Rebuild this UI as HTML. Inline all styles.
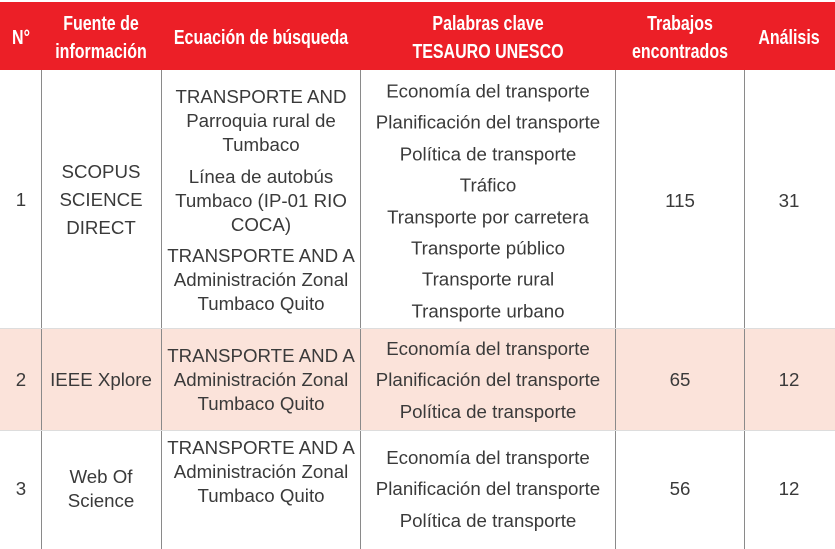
<!DOCTYPE html>
<html><head><meta charset="utf-8"><style>
body{margin:0;width:835px;height:549px;background:#fff;position:relative;overflow:hidden;font-family:"Liberation Sans",sans-serif;color:#3a3a3a}
.h{position:absolute;top:2px;height:68px;background:#ec1f27}
.ht{position:absolute;color:#fff;font-family:"Liberation Sans",sans-serif;font-weight:bold;font-size:20px;line-height:28px;text-align:center;white-space:nowrap;transform:translate(-50%,-50%) scaleX(0.8)}
.v{position:absolute;width:1px;background:#8a8a8a;top:70px;height:479px}
.t{position:absolute;text-align:center;font-size:18.7px;white-space:nowrap;transform:translate(-50%,-50%)}
</style></head><body>
<div class="h" style="left:0;width:835px"></div>
<div style="position:absolute;left:0;top:329px;width:835px;height:101px;background:#fbe3da"></div>
<div class="v" style="left:41px"></div>
<div class="v" style="left:161px"></div>
<div class="v" style="left:360px"></div>
<div class="v" style="left:615px"></div>
<div class="v" style="left:744px"></div>
<div style="position:absolute;left:0;top:328px;width:835px;height:1px;background:#ddd"></div>
<div style="position:absolute;left:0;top:430px;width:835px;height:1px;background:#ddd"></div>

<div class="ht" style="left:21px;top:38px">N°</div>
<div class="ht" style="left:101px;top:38px">Fuente de<br>información</div>
<div class="ht" style="left:261px;top:38px">Ecuación de búsqueda</div>
<div class="ht" style="left:488px;top:38px">Palabras clave<br>TESAURO UNESCO</div>
<div class="ht" style="left:680px;top:38px">Trabajos<br>encontrados</div>
<div class="ht" style="left:789px;top:38px">Análisis</div>

<!-- row 1 -->
<div class="t" style="left:21px;top:200px">1</div>
<div class="t" style="left:101px;top:200px;line-height:28px">SCOPUS<br>SCIENCE<br>DIRECT</div>
<div class="t" style="left:261px;top:121px;line-height:24px">TRANSPORTE AND<br>Parroquia rural de<br>Tumbaco</div>
<div class="t" style="left:261px;top:201px;line-height:24px">Línea de autobús<br>Tumbaco (IP-01 RIO<br>COCA)</div>
<div class="t" style="left:261px;top:280px;line-height:24px">TRANSPORTE AND A<br>Administración Zonal<br>Tumbaco Quito</div>
<div class="t" style="left:488px;top:201px;line-height:31.4px">Economía del transporte<br>Planificación del transporte<br>Política de transporte<br>Tráfico<br>Transporte por carretera<br>Transporte público<br>Transporte rural<br>Transporte urbano</div>
<div class="t" style="left:680px;top:201px">115</div>
<div class="t" style="left:789px;top:201px">31</div>

<!-- row 2 -->
<div class="t" style="left:21px;top:380px">2</div>
<div class="t" style="left:101px;top:380px">IEEE Xplore</div>
<div class="t" style="left:261px;top:380px;line-height:24px">TRANSPORTE AND A<br>Administración Zonal<br>Tumbaco Quito</div>
<div class="t" style="left:488px;top:380px;line-height:31.4px">Economía del transporte<br>Planificación del transporte<br>Política de transporte</div>
<div class="t" style="left:680px;top:380px">65</div>
<div class="t" style="left:789px;top:380px">12</div>

<!-- row 3 -->
<div class="t" style="left:21px;top:489px">3</div>
<div class="t" style="left:101px;top:489px;line-height:24px">Web Of<br>Science</div>
<div class="t" style="left:261px;top:472px;line-height:24px">TRANSPORTE AND A<br>Administración Zonal<br>Tumbaco Quito</div>
<div class="t" style="left:488px;top:489px;line-height:31.4px">Economía del transporte<br>Planificación del transporte<br>Política de transporte</div>
<div class="t" style="left:680px;top:489px">56</div>
<div class="t" style="left:789px;top:489px">12</div>
</body></html>
